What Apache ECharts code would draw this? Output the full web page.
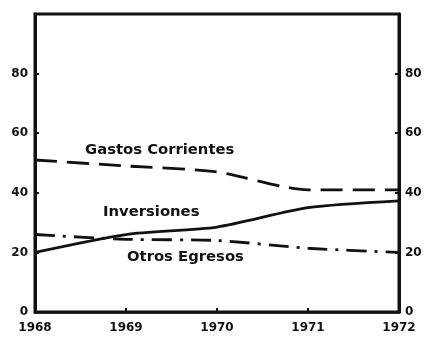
<!DOCTYPE html>
<html>
<head>
<meta charset="utf-8">
<script src="https://cdn.jsdelivr.net/npm/echarts@6/dist/echarts.min.js"></script>
<style>
  html, body { margin: 0; padding: 0; background: #fff; }
  #chart { width: 425px; height: 339px; }
</style>
</head>
<body>
<div id="chart"></div>
<script>
// Years on the horizontal axis
const years = ['1968', '1969', '1970', '1971', '1972'];

// Percentage shares of each spending group
const gastosCorrientes = [51, 49, 47, 41, 41];
const inversiones = [20, 26, 28.5, 35, 37.3];
const otrosEgresos = [26, 24.4, 24, 21.4, 20];

// Vertical axis tick labels shown on both sides
const yTickLabels = ['0', '20', '40', '60', '80'];

const ink = '#111';
const labelFont = { fontFamily: 'DejaVu Sans', fontWeight: 'bold', fontSize: 12, color: ink };
const seriesFont = 'bold 14.8px "DejaVu Sans"';

function yAxisSide(position) {
  return {
    type: 'value',
    position: position,
    min: 0,
    max: 100,
    interval: 20,
    axisLine: { show: true, lineStyle: { color: ink, width: 3 } },
    axisTick: { show: true, inside: true, length: 4, lineStyle: { color: ink, width: 2 } },
    splitLine: { show: false },
    axisLabel: {
      ...labelFont,
      margin: position === 'left' ? 7 : 6,
      formatter: function (v) {
        const s = String(v);
        return yTickLabels.indexOf(s) >= 0 ? s : '';
      }
    }
  };
}

const chart = echarts.init(document.getElementById('chart'), null, { renderer: 'canvas' });

chart.setOption({
  backgroundColor: '#fff',
  animation: false,
  grid: {
    left: 35, right: 26, top: 14, bottom: 27,
    show: true, borderColor: ink, borderWidth: 3, backgroundColor: 'transparent'
  },
  xAxis: {
    type: 'category',
    data: years,
    boundaryGap: false,
    axisLine: { show: true, lineStyle: { color: ink, width: 2.5 } },
    axisTick: { show: true, inside: true, length: 4, lineStyle: { color: ink, width: 2 } },
    axisLabel: { ...labelFont, margin: 10 }
  },
  yAxis: [yAxisSide('left'), yAxisSide('right')],
  series: [
    {
      name: 'Gastos Corrientes',
      type: 'line',
      data: gastosCorrientes,
      symbol: 'none',
      smooth: 0.25,
      lineStyle: { color: ink, width: 2.8, type: [22, 10] }
    },
    {
      name: 'Inversiones',
      type: 'line',
      data: inversiones,
      symbol: 'none',
      smooth: 0.25,
      lineStyle: { color: ink, width: 2.8, type: 'solid' }
    },
    {
      name: 'Otros Egresos',
      type: 'line',
      data: otrosEgresos,
      symbol: 'none',
      smooth: 0.25,
      lineStyle: { color: ink, width: 2.8, type: [20, 8, 3, 8] }
    }
  ],
  graphic: [
    { type: 'text', left: 85, top: 143, style: { text: 'Gastos Corrientes', font: seriesFont, fill: ink } },
    { type: 'text', left: 103, top: 205, style: { text: 'Inversiones', font: seriesFont, fill: ink } },
    { type: 'text', left: 127, top: 250, style: { text: 'Otros Egresos', font: seriesFont, fill: ink } }
  ]
});
</script>
</body>
</html>
